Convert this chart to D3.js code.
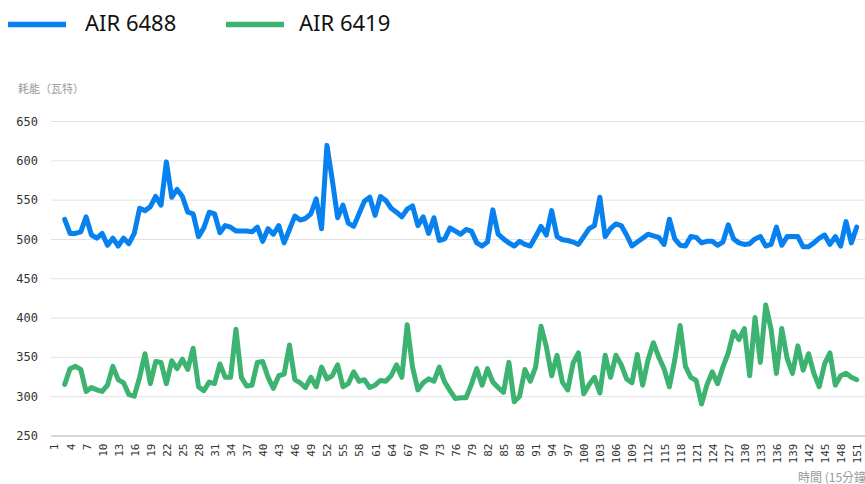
<!DOCTYPE html>
<html>
<head>
<meta charset="utf-8">
<script src="https://cdn.jsdelivr.net/npm/d3@7/dist/d3.min.js"></script>
<style>
	body { margin: 0; background: #fff; }
	svg { display: block; }
	.axis text { font-family: "DejaVu Sans Mono", monospace; fill: #333; }
	.axis-title { font-family: "Noto Sans CJK TC", sans-serif; font-size: 11px; fill: #999; }
	.legend-label { font-family: "Noto Sans", sans-serif; font-size: 22px; fill: #111; }
</style>
</head>
<body>
<div id="chart"></div>
<script>
// time slots (15 min each)
const timeSlots = d3.range(1, 152);
const tickLabels = [1, 4, 7, 10, 13, 16, 19, 22, 25, 28, 31, 34, 37, 40, 43, 46, 49, 52, 55, 58,
	61, 64, 67, 70, 73, 76, 79, 82, 85, 88, 91, 94, 97, 100, 103, 106, 109, 112, 115, 118,
	121, 124, 127, 130, 133, 136, 139, 142, 145, 148, 151];
const yTicks = [250, 300, 350, 400, 450, 500, 550, 600, 650];

const seriesNames = ["AIR 6488", "AIR 6419"];
const seriesColors = ["#0681ef", "#3cb371"];

const air6488 = [null, null, 525, 507, 507, 509, 528, 505, 501, 507,
	492, 501, 491, 501, 494, 507, 539, 536, 541, 554,
	543, 598, 553, 563, 554, 534, 532, 503, 514, 534,
	532, 508, 517, 515, 510, 510, 510, 509, 515, 497,
	513, 506, 517, 495, 512, 529, 524, 526, 532, 551,
	513, 619, 575, 527, 543, 520, 516, 532, 548, 553,
	530, 554, 549, 539, 534, 528, 538, 542, 517, 528,
	507, 527, 498, 500, 514, 510, 506, 512, 510, 495,
	491, 496, 537, 506, 500, 495, 491, 497, 493, 491,
	503, 516, 505, 536, 503, 499, 498, 496, 493, 503,
	513, 517, 553, 503, 513, 519, 517, 505, 491, 496,
	501, 506, 504, 502, 493, 525, 500, 492, 491, 503,
	502, 495, 497, 497, 492, 496, 518, 500, 495, 493,
	494, 500, 503, 491, 493, 515, 492, 503, 503, 503,
	490, 490, 495, 501, 505, 493, 503, 491, 522, 495, 515];

const air6419 = [null, null, 315, 335, 338, 334, 306, 311, 308, 306,
	314, 338, 321, 317, 302, 300, 324, 354, 316, 344,
	343, 316, 345, 335, 347, 334, 361, 312, 307, 318,
	316, 341, 324, 324, 385, 324, 313, 314, 343, 344,
	324, 310, 326, 328, 365, 321, 317, 311, 324, 312,
	337, 322, 326, 340, 312, 316, 331, 319, 321, 311,
	314, 320, 319, 326, 340, 324, 391, 337, 308, 317,
	322, 319, 337, 318, 307, 297, 298, 298, 315, 335,
	314, 335, 318, 311, 305, 343, 293, 300, 334, 319,
	337, 389, 363, 326, 352, 318, 308, 342, 355, 303,
	315, 324, 304, 352, 324, 352, 340, 322, 317, 353,
	314, 346, 368, 350, 335, 312, 346, 390, 338, 324,
	320, 290, 314, 331, 316, 337, 355, 382, 372, 386,
	326, 400, 343, 416, 385, 329, 386, 348, 329, 364,
	333, 354, 329, 312, 341, 355, 314, 326, 329, 324, 321];

class LineChart {
	constructor({ container, width, height }) {
		this.width = width;
		this.height = height;
		this.plot = { left: 51, right: width, top: 121, bottom: 435.5 };

		this.svg = d3.select(container)
			.append("svg")
			.attr("width", width)
			.attr("height", height);

		this.x = d3.scalePoint()
			.domain(timeSlots)
			.range([54, 856.7]);

		this.y = d3.scaleLinear()
			.domain([250, 650])
			.range([this.plot.bottom, this.plot.top]);

		this.drawAxes();
		this.drawLines([air6488, air6419]);
		this.drawLegend();
	}

	drawAxes() {
		const yAxis = d3.axisLeft(this.y)
			.tickValues(yTicks)
			.tickSize(-(this.plot.right - this.plot.left))
			.tickPadding(13);

		const yGroup = this.svg.append("g")
			.attr("class", "axis y-axis")
			.attr("transform", `translate(${this.plot.left},0)`)
			.call(yAxis);

		yGroup.select(".domain").remove();
		yGroup.selectAll(".tick line")
			.attr("stroke", d => d === 250 ? "#d6d6d6" : "#e2e2e2")
			.attr("stroke-width", d => d === 250 ? 2 : 1);
		yGroup.selectAll(".tick text")
			.attr("font-size", 12)
			.attr("dy", "0.34em");

		const xAxis = d3.axisBottom(this.x)
			.tickValues(tickLabels)
			.tickSize(0);

		const xGroup = this.svg.append("g")
			.attr("class", "axis x-axis")
			.attr("transform", `translate(0,${this.plot.bottom})`)
			.call(xAxis);

		xGroup.select(".domain").remove();
		xGroup.selectAll(".tick text")
			.attr("font-size", 11)
			.attr("transform", "rotate(-90)")
			.attr("text-anchor", "end")
			.attr("x", -8)
			.attr("y", 0)
			.attr("dy", "0.36em");

		this.svg.append("text")
			.attr("class", "axis-title")
			.attr("x", 18)
			.attr("y", 93)
			.text("耗能（瓦特）");

		// the x title runs off the right edge, as in the original
		this.svg.append("text")
			.attr("class", "axis-title")
			.attr("x", 798)
			.attr("y", 482)
			.style("font-size", "12px")
			.text("時間 (15分鐘)");
	}

	drawLines(series) {
		const line = d3.line()
			.defined(d => d != null)
			.x((d, i) => this.x(timeSlots[i]))
			.y(d => this.y(d));

		this.svg.selectAll(".series")
			.data(series)
			.enter()
			.append("path")
			.attr("class", "series")
			.attr("fill", "none")
			.attr("stroke", (d, i) => seriesColors[i])
			.attr("stroke-width", 5)
			.attr("stroke-linejoin", "round")
			.attr("stroke-linecap", "round")
			.attr("d", line);
	}

	drawLegend() {
		const swatchX = [8, 226];
		const labelX = [85, 299];

		const items = this.svg.selectAll(".legend-item")
			.data(seriesNames)
			.enter()
			.append("g")
			.attr("class", "legend-item");

		items.append("line")
			.attr("x1", (d, i) => swatchX[i])
			.attr("x2", (d, i) => swatchX[i] + 58)
			.attr("y1", 24.5)
			.attr("y2", 24.5)
			.attr("stroke", (d, i) => seriesColors[i])
			.attr("stroke-width", 5.5);

		items.append("text")
			.attr("class", "legend-label")
			.attr("x", (d, i) => labelX[i])
			.attr("y", 31)
			.text(d => d);
	}
}

new LineChart({ container: "#chart", width: 865, height: 484 });
</script>
</body>
</html>
